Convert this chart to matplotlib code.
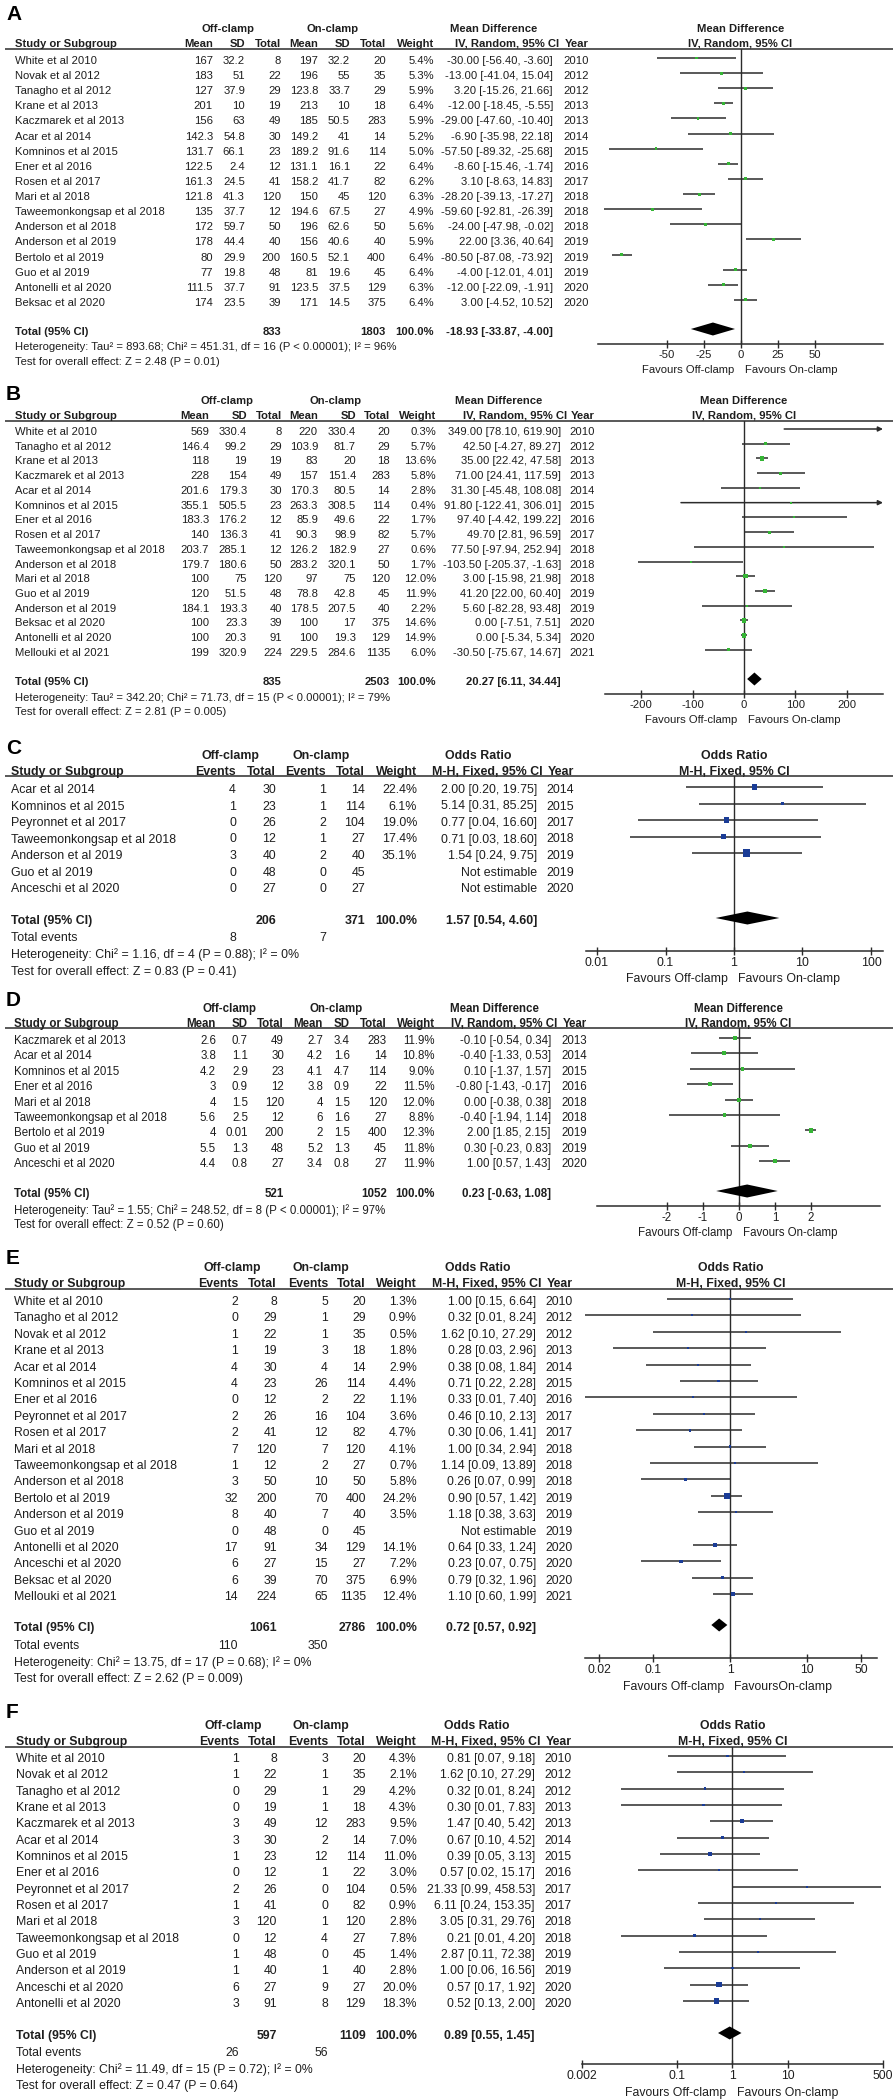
#!/usr/bin/env python3
import matplotlib
matplotlib.use('Agg')
import matplotlib.pyplot as plt
from matplotlib.ticker import NullLocator
import numpy as np

plt.rcParams['font.family'] = ['Liberation Sans', 'DejaVu Sans']

nan = float('nan')

# ---------------- A: mean difference, random ----------------
a_study = ["White et al 2010", "Novak et al 2012", "Tanagho et al 2012", "Krane et al 2013",
           "Kaczmarek et al 2013", "Acar et al 2014", "Komninos et al 2015", "Ener et al 2016",
           "Rosen et al 2017", "Mari et al 2018", "Taweemonkongsap et al 2018", "Anderson et al 2018",
           "Anderson et al 2019", "Bertolo et al 2019", "Guo et al 2019", "Antonelli et al 2020",
           "Beksac et al 2020"]
a_off_mean = [167, 183, 127, 201, 156, 142.3, 131.7, 122.5, 161.3, 121.8, 135, 172, 178, 80, 77, 111.5, 174]
a_off_sd = [32.2, 51, 37.9, 10, 63, 54.8, 66.1, 2.4, 24.5, 41.3, 37.7, 59.7, 44.4, 29.9, 19.8, 37.7, 23.5]
a_off_n = [8, 22, 29, 19, 49, 30, 23, 12, 41, 120, 12, 50, 40, 200, 48, 91, 39]
a_on_mean = [197, 196, 123.8, 213, 185, 149.2, 189.2, 131.1, 158.2, 150, 194.6, 196, 156, 160.5, 81, 123.5, 171]
a_on_sd = [32.2, 55, 33.7, 10, 50.5, 41, 91.6, 16.1, 41.7, 45, 67.5, 62.6, 40.6, 52.1, 19.6, 37.5, 14.5]
a_on_n = [20, 35, 29, 18, 283, 14, 114, 22, 82, 120, 27, 50, 40, 400, 45, 129, 375]
a_weight = [5.4, 5.3, 5.9, 6.4, 5.9, 5.2, 5.0, 6.4, 6.2, 6.3, 4.9, 5.6, 5.9, 6.4, 6.4, 6.3, 6.4]
a_est = [-30.00, -13.00, 3.20, -12.00, -29.00, -6.90, -57.50, -8.60, 3.10, -28.20, -59.60, -24.00,
         22.00, -80.50, -4.00, -12.00, 3.00]
a_lo = [-56.40, -41.04, -15.26, -18.45, -47.60, -35.98, -89.32, -15.46, -8.63, -39.13, -92.81, -47.98,
        3.36, -87.08, -12.01, -22.09, -4.52]
a_hi = [-3.60, 15.04, 21.66, -5.55, -10.40, 22.18, -25.68, -1.74, 14.83, -17.27, -26.39, -0.02,
        40.64, -73.92, 4.01, -1.91, 10.52]
a_year = [2010, 2012, 2012, 2013, 2013, 2014, 2015, 2016, 2017, 2018, 2018, 2018, 2019, 2019, 2019, 2020, 2020]
a_total = (833, 1803, -18.93, -33.87, -4.00)
a_het = "Heterogeneity: Tau² = 893.68; Chi² = 451.31, df = 16 (P < 0.00001); I² = 96%"
a_test = "Test for overall effect: Z = 2.48 (P = 0.01)"

# ---------------- B ----------------
b_study = ["White et al 2010", "Tanagho et al 2012", "Krane et al 2013", "Kaczmarek et al 2013",
           "Acar et al 2014", "Komninos et al 2015", "Ener et al 2016", "Rosen et al 2017",
           "Taweemonkongsap et al 2018", "Anderson et al 2018", "Mari et al 2018", "Guo et al 2019",
           "Anderson et al 2019", "Beksac et al 2020", "Antonelli et al 2020", "Mellouki et al 2021"]
b_off_mean = [569, 146.4, 118, 228, 201.6, 355.1, 183.3, 140, 203.7, 179.7, 100, 120, 184.1, 100, 100, 199]
b_off_sd = [330.4, 99.2, 19, 154, 179.3, 505.5, 176.2, 136.3, 285.1, 180.6, 75, 51.5, 193.3, 23.3, 20.3, 320.9]
b_off_n = [8, 29, 19, 49, 30, 23, 12, 41, 12, 50, 120, 48, 40, 39, 91, 224]
b_on_mean = [220, 103.9, 83, 157, 170.3, 263.3, 85.9, 90.3, 126.2, 283.2, 97, 78.8, 178.5, 100, 100, 229.5]
b_on_sd = [330.4, 81.7, 20, 151.4, 80.5, 308.5, 49.6, 98.9, 182.9, 320.1, 75, 42.8, 207.5, 17, 19.3, 284.6]
b_on_n = [20, 29, 18, 283, 14, 114, 22, 82, 27, 50, 120, 45, 40, 375, 129, 1135]
b_weight = [0.3, 5.7, 13.6, 5.8, 2.8, 0.4, 1.7, 5.7, 0.6, 1.7, 12.0, 11.9, 2.2, 14.6, 14.9, 6.0]
b_est = [349.00, 42.50, 35.00, 71.00, 31.30, 91.80, 97.40, 49.70, 77.50, -103.50, 3.00, 41.20, 5.60,
         0.00, 0.00, -30.50]
b_lo = [78.10, -4.27, 22.42, 24.41, -45.48, -122.41, -4.42, 2.81, -97.94, -205.37, -15.98, 22.00,
        -82.28, -7.51, -5.34, -75.67]
b_hi = [619.90, 89.27, 47.58, 117.59, 108.08, 306.01, 199.22, 96.59, 252.94, -1.63, 21.98, 60.40,
        93.48, 7.51, 5.34, 14.67]
b_year = [2010, 2012, 2013, 2013, 2014, 2015, 2016, 2017, 2018, 2018, 2018, 2019, 2019, 2020, 2020, 2021]
b_total = (835, 2503, 20.27, 6.11, 34.44)
b_het = "Heterogeneity: Tau² = 342.20; Chi² = 71.73, df = 15 (P < 0.00001); I² = 79%"
b_test = "Test for overall effect: Z = 2.81 (P = 0.005)"

# ---------------- C: odds ratio, fixed ----------------
c_study = ["Acar et al 2014", "Komninos et al 2015", "Peyronnet et al 2017", "Taweemonkongsap et al 2018",
           "Anderson et al 2019", "Guo et al 2019", "Anceschi et al 2020"]
c_off_ev = [4, 1, 0, 0, 3, 0, 0]
c_off_n = [30, 23, 26, 12, 40, 48, 27]
c_on_ev = [1, 1, 2, 1, 2, 0, 0]
c_on_n = [14, 114, 104, 27, 40, 45, 27]
c_weight = [22.4, 6.1, 19.0, 17.4, 35.1, nan, nan]
c_est = [2.00, 5.14, 0.77, 0.71, 1.54, nan, nan]
c_lo = [0.20, 0.31, 0.04, 0.03, 0.24, nan, nan]
c_hi = [19.75, 85.25, 16.60, 18.60, 9.75, nan, nan]
c_year = [2014, 2015, 2017, 2018, 2019, 2019, 2020]
c_total = (206, 371, 1.57, 0.54, 4.60)
c_events = (8, 7)
c_het = "Heterogeneity: Chi² = 1.16, df = 4 (P = 0.88); I² = 0%"
c_test = "Test for overall effect: Z = 0.83 (P = 0.41)"

# ---------------- D ----------------
d_study = ["Kaczmarek et al 2013", "Acar et al 2014", "Komninos et al 2015", "Ener et al 2016",
           "Mari et al 2018", "Taweemonkongsap et al 2018", "Bertolo et al 2019", "Guo et al 2019",
           "Anceschi et al 2020"]
d_off_mean = [2.6, 3.8, 4.2, 3, 4, 5.6, 4, 5.5, 4.4]
d_off_sd = [0.7, 1.1, 2.9, 0.9, 1.5, 2.5, 0.01, 1.3, 0.8]
d_off_n = [49, 30, 23, 12, 120, 12, 200, 48, 27]
d_on_mean = [2.7, 4.2, 4.1, 3.8, 4, 6, 2, 5.2, 3.4]
d_on_sd = [3.4, 1.6, 4.7, 0.9, 1.5, 1.6, 1.5, 1.3, 0.8]
d_on_n = [283, 14, 114, 22, 120, 27, 400, 45, 27]
d_weight = [11.9, 10.8, 9.0, 11.5, 12.0, 8.8, 12.3, 11.8, 11.9]
d_est = [-0.10, -0.40, 0.10, -0.80, 0.00, -0.40, 2.00, 0.30, 1.00]
d_lo = [-0.54, -1.33, -1.37, -1.43, -0.38, -1.94, 1.85, -0.23, 0.57]
d_hi = [0.34, 0.53, 1.57, -0.17, 0.38, 1.14, 2.15, 0.83, 1.43]
d_year = [2013, 2014, 2015, 2016, 2018, 2018, 2019, 2019, 2020]
d_total = (521, 1052, 0.23, -0.63, 1.08)
d_het = "Heterogeneity: Tau² = 1.55; Chi² = 248.52, df = 8 (P < 0.00001); I² = 97%"
d_test = "Test for overall effect: Z = 0.52 (P = 0.60)"

# ---------------- E ----------------
e_study = ["White et al 2010", "Tanagho et al 2012", "Novak et al 2012", "Krane et al 2013",
           "Acar et al 2014", "Komninos et al 2015", "Ener et al 2016", "Peyronnet et al 2017",
           "Rosen et al 2017", "Mari et al 2018", "Taweemonkongsap et al 2018", "Anderson et al 2018",
           "Bertolo et al 2019", "Anderson et al 2019", "Guo et al 2019", "Antonelli et al 2020",
           "Anceschi et al 2020", "Beksac et al 2020", "Mellouki et al 2021"]
e_off_ev = [2, 0, 1, 1, 4, 4, 0, 2, 2, 7, 1, 3, 32, 8, 0, 17, 6, 6, 14]
e_off_n = [8, 29, 22, 19, 30, 23, 12, 26, 41, 120, 12, 50, 200, 40, 48, 91, 27, 39, 224]
e_on_ev = [5, 1, 1, 3, 4, 26, 2, 16, 12, 7, 2, 10, 70, 7, 0, 34, 15, 70, 65]
e_on_n = [20, 29, 35, 18, 14, 114, 22, 104, 82, 120, 27, 50, 400, 40, 45, 129, 27, 375, 1135]
e_weight = [1.3, 0.9, 0.5, 1.8, 2.9, 4.4, 1.1, 3.6, 4.7, 4.1, 0.7, 5.8, 24.2, 3.5, nan, 14.1, 7.2, 6.9, 12.4]
e_est = [1.00, 0.32, 1.62, 0.28, 0.38, 0.71, 0.33, 0.46, 0.30, 1.00, 1.14, 0.26, 0.90, 1.18, nan,
         0.64, 0.23, 0.79, 1.10]
e_lo = [0.15, 0.01, 0.10, 0.03, 0.08, 0.22, 0.01, 0.10, 0.06, 0.34, 0.09, 0.07, 0.57, 0.38, nan,
        0.33, 0.07, 0.32, 0.60]
e_hi = [6.64, 8.24, 27.29, 2.96, 1.84, 2.28, 7.40, 2.13, 1.41, 2.94, 13.89, 0.99, 1.42, 3.63, nan,
        1.24, 0.75, 1.96, 1.99]
e_year = [2010, 2012, 2012, 2013, 2014, 2015, 2016, 2017, 2017, 2018, 2018, 2018, 2019, 2019, 2019,
          2020, 2020, 2020, 2021]
e_total = (1061, 2786, 0.72, 0.57, 0.92)
e_events = (110, 350)
e_het = "Heterogeneity: Chi² = 13.75, df = 17 (P = 0.68); I² = 0%"
e_test = "Test for overall effect: Z = 2.62 (P = 0.009)"

# ---------------- F ----------------
f_study = ["White et al 2010", "Novak et al 2012", "Tanagho et al 2012", "Krane et al 2013",
           "Kaczmarek et al 2013", "Acar et al 2014", "Komninos et al 2015", "Ener et al 2016",
           "Peyronnet et al 2017", "Rosen et al 2017", "Mari et al 2018", "Taweemonkongsap et al 2018",
           "Guo et al 2019", "Anderson et al 2019", "Anceschi et al 2020", "Antonelli et al 2020"]
f_off_ev = [1, 1, 0, 0, 3, 3, 1, 0, 2, 1, 3, 0, 1, 1, 6, 3]
f_off_n = [8, 22, 29, 19, 49, 30, 23, 12, 26, 41, 120, 12, 48, 40, 27, 91]
f_on_ev = [3, 1, 1, 1, 12, 2, 12, 1, 0, 0, 1, 4, 0, 1, 9, 8]
f_on_n = [20, 35, 29, 18, 283, 14, 114, 22, 104, 82, 120, 27, 45, 40, 27, 129]
f_weight = [4.3, 2.1, 4.2, 4.3, 9.5, 7.0, 11.0, 3.0, 0.5, 0.9, 2.8, 7.8, 1.4, 2.8, 20.0, 18.3]
f_est = [0.81, 1.62, 0.32, 0.30, 1.47, 0.67, 0.39, 0.57, 21.33, 6.11, 3.05, 0.21, 2.87, 1.00, 0.57, 0.52]
f_lo = [0.07, 0.10, 0.01, 0.01, 0.40, 0.10, 0.05, 0.02, 0.99, 0.24, 0.31, 0.01, 0.11, 0.06, 0.17, 0.13]
f_hi = [9.18, 27.29, 8.24, 7.83, 5.42, 4.52, 3.13, 15.17, 458.53, 153.35, 29.76, 4.20, 72.38, 16.56,
        1.92, 2.00]
f_year = [2010, 2012, 2012, 2013, 2013, 2014, 2015, 2016, 2017, 2017, 2018, 2018, 2019, 2019, 2020, 2020]
f_total = (597, 1109, 0.89, 0.55, 1.45)
f_events = (26, 56)
f_het = "Heterogeneity: Chi² = 11.49, df = 15 (P = 0.72); I² = 0%"
f_test = "Test for overall effect: Z = 0.47 (P = 0.64)"


W, H = 895, 2100
fig = plt.figure(figsize=(W / 100, H / 100), dpi=100)
bg = fig.add_axes([0, 0, 1, 1])
bg.set_xlim(0, W)
bg.set_ylim(H, 0)
bg.axis('off')

TXT = '#1e1e1e'
LINE = '#2b2b2b'
GREEN = '#35b535'
BLUE = '#1a3c96'


def fmt(v):
    return '{:g}'.format(v)


def ci_text(e, lo, hi):
    if np.isnan(e):
        return 'Not estimable'
    return '{:.2f} [{:.2f}, {:.2f}]'.format(e, lo, hi)


def md_table(off_m, off_s, off_n, on_m, on_s, on_n, wt, est, lo, hi, year):
    return [[fmt(v) for v in off_m], [fmt(v) for v in off_s], [str(v) for v in off_n],
            [fmt(v) for v in on_m], [fmt(v) for v in on_s], [str(v) for v in on_n],
            ['{:.1f}%'.format(w) for w in wt],
            [ci_text(e, l, h) for e, l, h in zip(est, lo, hi)],
            [str(y) for y in year]]


def or_table(off_e, off_n, on_e, on_n, wt, est, lo, hi, year):
    return [[str(v) for v in off_e], [str(v) for v in off_n],
            [str(v) for v in on_e], [str(v) for v in on_n],
            ['' if np.isnan(w) else '{:.1f}%'.format(w) for w in wt],
            [ci_text(e, l, h) for e, l, h in zip(est, lo, hi)],
            [str(y) for y in year]]


MD_HEADS = ['Mean', 'SD', 'Total', 'Mean', 'SD', 'Total', 'Weight', 'IV, Random, 95% CI', 'Year']
OR_HEADS = ['Events', 'Total', 'Events', 'Total', 'Weight', 'M-H, Fixed, 95% CI', 'Year']


def draw_panel(p):
    fs = p['fs']
    cols = p['cols']
    bold = dict(fontsize=fs, fontweight='bold', color=TXT, va='center')
    norm = dict(fontsize=fs, color=TXT, va='center')
    md = p['kind'] == 'md'

    bg.text(6, p['label_y'], p['letter'], fontsize=15, fontweight='bold', color='black',
            va='center', ha='left')
    bg.text(p['grp_x'][0], p['grp_y'], 'Off-clamp', ha='center', **bold)
    bg.text(p['grp_x'][1], p['grp_y'], 'On-clamp', ha='center', **bold)
    bg.text(p['grp_x'][2], p['grp_y'], p['effect'], ha='center', **bold)
    bg.text(p['name_x'], p['col_y'], 'Study or Subgroup', ha='left', **bold)
    heads = MD_HEADS if md else OR_HEADS
    for j, (h, x) in enumerate(zip(heads, cols)):
        dx = 6 if j == len(cols) - 2 else 0
        bg.text(x + dx, p['col_y'], h, ha='right', **bold)
    bg.plot([5, 893], [p['line_y']] * 2, color=LINE, lw=1.1, solid_capstyle='butt')

    study = p['study']
    for i, name in enumerate(study):
        y = p['row0'] + i * p['step']
        bg.text(p['name_x'], y, name, ha='left', **norm)
        for col, x in zip(p['table'], cols):
            bg.text(x, y, col[i], ha='right', **norm)

    n_off, n_on, te, tl, th = p['total']
    it_off, it_on, it_w = (2, 5, 6) if md else (1, 3, 4)
    ty = p['total_y']
    bg.text(p['name_x'], ty, 'Total (95% CI)', ha='left', **bold)
    bg.text(cols[it_off], ty, str(n_off), ha='right', **bold)
    bg.text(cols[it_on], ty, str(n_on), ha='right', **bold)
    bg.text(cols[it_w], ty, '100.0%', ha='right', **bold)
    bg.text(cols[it_w + 1], ty, ci_text(te, tl, th), ha='right', **bold)
    if p.get('events'):
        ey = p['events_y']
        bg.text(p['name_x'], ey, 'Total events', ha='left', **norm)
        bg.text(cols[0], ey, str(p['events'][0]), ha='right', **norm)
        bg.text(cols[2], ey, str(p['events'][1]), ha='right', **norm)
    bg.text(p['name_x'], p['het_y'], p['het'], ha='left', **norm)
    bg.text(p['name_x'], p['test_y'], p['test'], ha='left', **norm)

    # ---- forest plot ----
    l, r = p['ax_x']
    top, bot = p['line_y'], p['axis_y']
    ax = fig.add_axes([l / W, 1 - bot / H, (r - l) / W, (bot - top) / H])
    ax.patch.set_alpha(0)
    frow0 = p['row0'] - 3
    sp = p['step']
    ax.set_ylim((bot - frow0) / sp, (top - frow0) / sp)
    if not md:
        ax.set_xscale('log')
    ax.set_xlim(*p['xlim'])
    ref = 0 if md else 1
    ax.axvline(ref, color=LINE, lw=1.0, zorder=1)
    xmin, xmax = ax.get_xlim()

    est = np.array(p['est'], float)
    lo = np.array(p['lo'], float)
    hi = np.array(p['hi'], float)
    wt = np.array(p['weight'], float)
    rows = np.arange(len(study))
    ok = ~np.isnan(est)
    for i in rows[ok]:
        if hi[i] > xmax:
            ax.annotate('', xy=(xmax, i), xytext=(max(lo[i], xmin), i),
                        arrowprops=dict(arrowstyle='-|>', color=LINE, lw=1.1,
                                        mutation_scale=7, shrinkA=0, shrinkB=0))
        else:
            ax.hlines(i, lo[i], hi[i], color=LINE, lw=1.1, zorder=2)
    side = np.maximum(1.2 * np.sqrt(np.nan_to_num(wt)), 2.0) * 0.72
    ax.scatter(est[ok], rows[ok], s=side[ok] ** 2, marker='s', color=p['sq'],
               linewidths=0, zorder=3)

    yd = (p['total_y'] - p['row0']) / sp
    h = 6.5 / sp
    ax.fill([tl, te, th, te], [yd, yd - h, yd, yd + h], color='black', lw=0, zorder=4)

    for s in ('top', 'left', 'right'):
        ax.spines[s].set_visible(False)
    ax.spines['bottom'].set_color(LINE)
    ax.spines['bottom'].set_linewidth(1.1)
    ax.set_yticks([])
    ax.set_xticks(p['ticks'])
    ax.set_xticklabels(p['ticklabels'])
    ax.xaxis.set_minor_locator(NullLocator())
    ax.tick_params(axis='x', direction='inout', length=6, width=1.0, color=LINE,
                   pad=1.5, labelsize=fs, labelcolor=TXT)

    fy = -(p['fav_y'] - p['axis_y']) * 0.72
    ax.annotate('Favours Off-clamp', xy=(ref, 0), xycoords=('data', 'axes fraction'),
                xytext=(-4.5, fy), textcoords='offset points', ha='right', va='center',
                fontsize=fs, color=TXT, annotation_clip=False)
    ax.annotate(p['fav_on'], xy=(ref, 0), xycoords=('data', 'axes fraction'),
                xytext=(3, fy), textcoords='offset points', ha='left', va='center',
                fontsize=fs, color=TXT, annotation_clip=False)

    cx = (l + r) / 2
    bg.text(cx, p['grp_y'], p['effect'], ha='center', **bold)
    bg.text(cx, p['col_y'], p['method'], ha='center', **bold)


panels = [
    dict(letter='A', kind='md', study=a_study,
         table=md_table(a_off_mean, a_off_sd, a_off_n, a_on_mean, a_on_sd, a_on_n,
                        a_weight, a_est, a_lo, a_hi, a_year),
         est=a_est, lo=a_lo, hi=a_hi, weight=a_weight, total=a_total, het=a_het, test=a_test,
         effect='Mean Difference', method='IV, Random, 95% CI', sq=GREEN, fav_on='Favours On-clamp',
         ticks=[-50, -25, 0, 25, 50], ticklabels=['-50', '-25', '0', '25', '50'],
         fs=8.1, label_y=15, grp_y=29, col_y=44, line_y=49, row0=61, step=15.12,
         total_y=332, het_y=347, test_y=362, name_x=15,
         cols=[213, 245, 281, 318, 350, 386, 434, 553, 589], grp_x=(228, 333, 494),
         ax_x=(598, 883), axis_y=344, fav_y=370, xlim=(-96.6, 96.0)),
    dict(letter='B', kind='md', study=b_study,
         table=md_table(b_off_mean, b_off_sd, b_off_n, b_on_mean, b_on_sd, b_on_n,
                        b_weight, b_est, b_lo, b_hi, b_year),
         est=b_est, lo=b_lo, hi=b_hi, weight=b_weight, total=b_total, het=b_het, test=b_test,
         effect='Mean Difference', method='IV, Random, 95% CI', sq=GREEN, fav_on='Favours On-clamp',
         ticks=[-200, -100, 0, 100, 200], ticklabels=['-200', '-100', '0', '100', '200'],
         fs=8.1, label_y=395, grp_y=401, col_y=416, line_y=421, row0=432, step=14.73,
         total_y=682, het_y=698, test_y=712, name_x=15,
         cols=[209, 247, 282, 318, 356, 390, 436, 561, 595], grp_x=(227, 336, 499),
         ax_x=(605, 883), axis_y=694, fav_y=720, xlim=(-270, 270)),
    dict(letter='C', kind='or', study=c_study,
         table=or_table(c_off_ev, c_off_n, c_on_ev, c_on_n, c_weight, c_est, c_lo, c_hi, c_year),
         est=c_est, lo=c_lo, hi=c_hi, weight=c_weight, total=c_total, events=c_events,
         het=c_het, test=c_test,
         effect='Odds Ratio', method='M-H, Fixed, 95% CI', sq=BLUE, fav_on='Favours On-clamp',
         ticks=[0.01, 0.1, 1, 10, 100], ticklabels=['0.01', '0.1', '1', '10', '100'],
         fs=8.9, label_y=748, grp_y=756, col_y=772, line_y=776, row0=790, step=16.5,
         total_y=921, events_y=938, het_y=955, test_y=972, name_x=11,
         cols=[236, 276, 326, 365, 417, 537, 574], grp_x=(230, 321, 478),
         ax_x=(586, 883), axis_y=951, fav_y=979, xlim=(0.0069, 150)),
    dict(letter='D', kind='md', study=d_study,
         table=md_table(d_off_mean, d_off_sd, d_off_n, d_on_mean, d_on_sd, d_on_n,
                        d_weight, d_est, d_lo, d_hi, d_year),
         est=d_est, lo=d_lo, hi=d_hi, weight=d_weight, total=d_total, het=d_het, test=d_test,
         effect='Mean Difference', method='IV, Random, 95% CI', sq=GREEN, fav_on='Favours On-clamp',
         ticks=[-2, -1, 0, 1, 2], ticklabels=['-2', '-1', '0', '1', '2'],
         fs=8.3, label_y=1000, grp_y=1009, col_y=1024, line_y=1028, row0=1041, step=15.4,
         total_y=1194, het_y=1211, test_y=1225, name_x=14,
         cols=[216, 248, 284, 323, 350, 387, 435, 551, 587], grp_x=(230, 336, 494),
         ax_x=(597, 880), axis_y=1206, fav_y=1233, xlim=(-3.94, 3.92)),
    dict(letter='E', kind='or', study=e_study,
         table=or_table(e_off_ev, e_off_n, e_on_ev, e_on_n, e_weight, e_est, e_lo, e_hi, e_year),
         est=e_est, lo=e_lo, hi=e_hi, weight=e_weight, total=e_total, events=e_events,
         het=e_het, test=e_test,
         effect='Odds Ratio', method='M-H, Fixed, 95% CI', sq=BLUE, fav_on='FavoursOn-clamp',
         ticks=[0.02, 0.1, 1, 10, 50], ticklabels=['0.02', '0.1', '1', '10', '50'],
         fs=8.8, label_y=1258, grp_y=1268, col_y=1284, line_y=1289, row0=1302, step=16.4,
         total_y=1628, events_y=1646, het_y=1663, test_y=1679, name_x=14,
         cols=[238, 277, 328, 366, 417, 536, 573], grp_x=(232, 321, 478),
         ax_x=(585, 877), axis_y=1658, fav_y=1687, xlim=(0.013, 81)),
    dict(letter='F', kind='or', study=f_study,
         table=or_table(f_off_ev, f_off_n, f_on_ev, f_on_n, f_weight, f_est, f_lo, f_hi, f_year),
         est=f_est, lo=f_lo, hi=f_hi, weight=f_weight, total=f_total, events=f_events,
         het=f_het, test=f_test,
         effect='Odds Ratio', method='M-H, Fixed, 95% CI', sq=BLUE, fav_on='Favours On-clamp',
         ticks=[0.002, 0.1, 1, 10, 500], ticklabels=['0.002', '0.1', '1', '10', '500'],
         fs=8.8, label_y=1713, grp_y=1726, col_y=1742, line_y=1747, row0=1759, step=16.33,
         total_y=2036, events_y=2053, het_y=2070, test_y=2086, name_x=16,
         cols=[239, 277, 328, 366, 417, 535, 572], grp_x=(233, 321, 477),
         ax_x=(582, 883), axis_y=2064, fav_y=2093, xlim=(0.002, 500)),
]

for p in panels:
    draw_panel(p)

fig.savefig('out.png', dpi=100)
